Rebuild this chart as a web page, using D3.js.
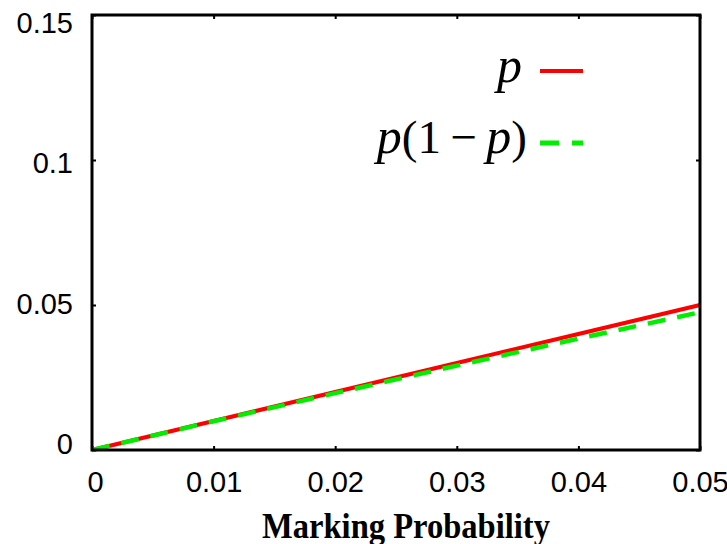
<!DOCTYPE html>
<html>
<head>
<meta charset="utf-8">
<script src="https://cdn.jsdelivr.net/npm/d3@7/dist/d3.min.js"></script>
<style>
  body { margin: 0; background: #fff; }
  #container { width: 727px; height: 544px; }
</style>
</head>
<body>
<div id="container"></div>
<script>
// values
const probs = [0, 0.01, 0.02, 0.03, 0.04, 0.05];
const seriesP = [0, 0.01, 0.02, 0.03, 0.04, 0.05];
const seriesPQ = [0, 0.0099, 0.0196, 0.0291, 0.0384, 0.0475];
const xTicks = [0, 0.01, 0.02, 0.03, 0.04, 0.05];
const yTicks = [0, 0.05, 0.1, 0.15];
const xTickLabels = ["0", "0.01", "0.02", "0.03", "0.04", "0.05"];
const yTickLabels = ["0", "0.05", "0.1", "0.15"];

const width = 727, height = 544;
const margin = {left: 92, right: 27, top: 15, bottom: 94};

const svg = d3.select("#container")
  .append("svg")
  .attr("width", width)
  .attr("height", height);

const x = d3.scaleLinear().domain([0, 0.05]).range([margin.left, width - margin.right]);
const y = d3.scaleLinear().domain([0, 0.15]).range([height - margin.bottom, margin.top]);
// tick labels on the y side sit a bit tighter than the ticks in the original
const yLab = d3.scaleLinear().domain([0, 0.15]).range([443, 22]);

const tickFont = "'Liberation Sans', Arial, sans-serif";

// x axis (bottom), gnuplot style inner ticks
const xAxis = svg.append("g")
  .attr("transform", `translate(0,${y(0)})`)
  .call(d3.axisBottom(x).tickValues(xTicks).tickSizeInner(-4).tickSizeOuter(0)
    .tickFormat((d, i) => xTickLabels[i]));
xAxis.select(".domain").remove();
xAxis.selectAll("text")
  .attr("y", 42)
  .attr("dy", 0)
  .attr("x", (d, i) => i === 0 ? 3 : 0)
  .style("font-family", tickFont)
  .style("font-size", "29px")
  .attr("fill", "#000");

// y axis (left)
const yAxis = svg.append("g")
  .attr("transform", `translate(${x(0)},0)`)
  .call(d3.axisLeft(y).tickValues(yTicks).tickSizeInner(-4).tickSizeOuter(0)
    .tickFormat((d, i) => yTickLabels[i]));
yAxis.select(".domain").remove();
yAxis.selectAll(".tick text")
  .attr("x", -19)
  .attr("y", d => yLab(d) - y(d))
  .attr("dy", "0.36em")
  .style("font-family", tickFont)
  .style("font-size", "29px")
  .attr("fill", "#000");

// mirrored ticks on top and right
const xTop = svg.append("g")
  .attr("transform", `translate(0,${y(0.15)})`)
  .call(d3.axisTop(x).tickValues(xTicks).tickSizeInner(-4).tickSizeOuter(0).tickFormat(""));
xTop.select(".domain").remove();
const yRight = svg.append("g")
  .attr("transform", `translate(${x(0.05)},0)`)
  .call(d3.axisRight(y).tickValues(yTicks).tickSizeInner(-4).tickSizeOuter(0).tickFormat(""));
yRight.select(".domain").remove();
svg.selectAll(".tick line").attr("stroke", "#000").attr("stroke-width", 2);

// lines
const lineP = d3.line().x((d, i) => x(probs[i])).y(d => y(d));

svg.append("path")
  .datum(seriesP)
  .attr("d", lineP)
  .attr("fill", "none")
  .attr("stroke", "#ff0000")
  .attr("stroke-width", 4);

svg.append("path")
  .datum(seriesPQ)
  .attr("d", lineP)
  .attr("fill", "none")
  .attr("stroke", "#00ee00")
  .attr("stroke-width", 4.5)
  .attr("stroke-dasharray", "18,12");

// frame
svg.append("rect")
  .attr("x", x(0))
  .attr("y", y(0.15))
  .attr("width", x(0.05) - x(0))
  .attr("height", y(0) - y(0.15))
  .attr("fill", "none")
  .attr("stroke", "#000")
  .attr("stroke-width", 3);

// legend
const mathFont = "'Liberation Serif', 'Times New Roman', serif";
const legend = svg.append("g");

legend.append("text")
  .attr("x", 522)
  .attr("y", 82)
  .attr("text-anchor", "end")
  .style("font-family", mathFont)
  .style("font-size", "50px")
  .style("font-style", "italic")
  .text("p");

legend.append("line")
  .attr("x1", 540).attr("x2", 583)
  .attr("y1", 71).attr("y2", 71)
  .attr("stroke", "#ff0000")
  .attr("stroke-width", 4);

const t2 = legend.append("text")
  .attr("x", 527)
  .attr("y", 153)
  .attr("text-anchor", "end")
  .style("font-family", mathFont)
  .style("font-size", "47px");
t2.append("tspan").style("font-style", "italic").style("font-size", "50px").text("p");
t2.append("tspan").text("(1\u2009\u2212\u2009");
t2.append("tspan").style("font-style", "italic").style("font-size", "50px").text("p");
t2.append("tspan").text(")");

legend.append("line")
  .attr("x1", 540).attr("x2", 583)
  .attr("y1", 143).attr("y2", 143)
  .attr("stroke", "#00ee00")
  .attr("stroke-width", 5)
  .attr("stroke-dasharray", "19,13");

// x title
svg.append("text")
  .attr("x", 406)
  .attr("y", 538)
  .attr("text-anchor", "middle")
  .attr("textLength", 288)
  .attr("lengthAdjust", "spacingAndGlyphs")
  .style("font-family", mathFont)
  .style("font-weight", "bold")
  .style("font-size", "36px")
  .text("Marking Probability");
</script>
</body>
</html>
